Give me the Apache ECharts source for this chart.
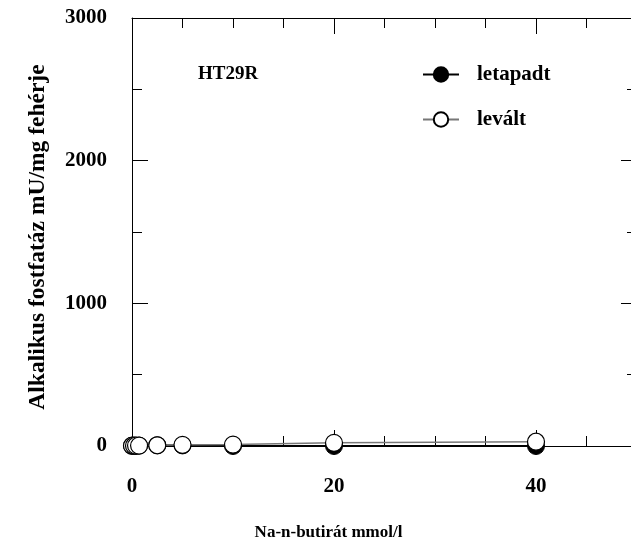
<!DOCTYPE html>
<html>
<head>
<meta charset="utf-8">
<script src="https://cdn.jsdelivr.net/npm/echarts@6/dist/echarts.min.js"></script>
<style>
  html, body { margin: 0; padding: 0; background: #fff; }
  #chart { width: 631px; height: 546px; }
</style>
</head>
<body>
<div id="chart"></div>
<script>
// Na-n-butirát koncentráció (mmol/l)
const conc = [0, 0.2, 0.4, 0.7, 2.5, 5, 10, 20, 40];
// alkalikus foszfatáz, mU/mg fehérje
const letapadt = [2, 2, 2, 3, 6, 4, 0, 0, 0];
const levalt = [2, 2, 3, 3, 5, 8, 10, 22, 30];

const font = 'Liberation Serif';

function pairs(xs, ys) {
  const out = [];
  for (let i = 0; i < xs.length; i++) {
    out.push([xs[i], ys[i]]);
  }
  return out;
}

function ticks() {
  return { show: true, inside: true, length: 16, lineStyle: { color: '#000', width: 1 } };
}
function minor(n) {
  return { show: true, splitNumber: n, length: 10, lineStyle: { color: '#000', width: 1 } };
}

const chart = echarts.init(document.getElementById('chart'));

chart.setOption({
  animation: false,
  grid: { left: 132, top: 18, right: -6, bottom: 100, outerBoundsMode: 'none', containLabel: false },
  title: {
    text: 'HT29R',
    left: 193,
    top: 60,
    textStyle: { fontFamily: font, fontWeight: 'bold', fontSize: 19, color: '#000' }
  },
  legend: {
    orient: 'vertical',
    left: 417,
    top: 59,
    itemWidth: 36,
    itemHeight: 18,
    itemGap: 24,
    textStyle: {
      fontFamily: font,
      fontWeight: 'bold',
      fontSize: 21,
      color: '#000',
      padding: [0, 0, 6, 13]
    },
    data: ['letapadt', 'levált']
  },
  xAxis: [
    {
      type: 'value',
      min: 0,
      max: 50,
      interval: 20,
      name: 'Na-n-butirát mmol/l',
      nameLocation: 'middle',
      nameGap: 78,
      nameTextStyle: {
        fontFamily: font, fontWeight: 'bold', fontSize: 17, color: '#000',
        padding: [0, 112, 0, 0]
      },
      axisLine: { show: true, onZero: false, lineStyle: { color: '#000', width: 1 } },
      axisTick: ticks(),
      minorTick: minor(4),
      splitLine: { show: false },
      axisLabel: {
        margin: 30,
        showMaxLabel: false,
        formatter: v => String(v),
        fontFamily: font,
        fontWeight: 'bold',
        fontSize: 21,
        color: '#000'
      }
    },
    {
      type: 'value',
      position: 'top',
      min: 0,
      max: 50,
      interval: 20,
      axisLine: { show: true, onZero: false, lineStyle: { color: '#000', width: 1 } },
      axisTick: ticks(),
      minorTick: minor(4),
      splitLine: { show: false },
      axisLabel: { show: false }
    }
  ],
  yAxis: [
    {
      type: 'value',
      min: 0,
      max: 3000,
      interval: 1000,
      name: 'Alkalikus fostfatáz mU/mg fehérje',
      nameLocation: 'middle',
      nameGap: 82,
      nameTextStyle: {
        fontFamily: font, fontWeight: 'bold', fontSize: 23.5, color: '#000',
        padding: [0, 10, 0, 0]
      },
      axisLine: { show: true, onZero: false, lineStyle: { color: '#000', width: 1 } },
      axisTick: ticks(),
      minorTick: minor(2),
      splitLine: { show: false },
      axisLabel: {
        margin: 25,
        formatter: v => String(v),
        fontFamily: font,
        fontWeight: 'bold',
        fontSize: 21,
        color: '#000'
      }
    },
    {
      type: 'value',
      position: 'right',
      min: 0,
      max: 3000,
      interval: 1000,
      axisLine: { show: true, onZero: false, lineStyle: { color: '#000', width: 1 } },
      axisTick: ticks(),
      minorTick: minor(2),
      splitLine: { show: false },
      axisLabel: { show: false }
    }
  ],
  series: [
    {
      name: 'letapadt',
      type: 'line',
      data: pairs(conc, letapadt),
      symbol: 'circle',
      symbolSize: 17,
      z: 2,
      lineStyle: { color: '#000', width: 2 },
      itemStyle: { color: '#000', borderColor: '#000', borderWidth: 1 }
    },
    {
      name: 'levált',
      type: 'line',
      data: pairs(conc, levalt),
      symbol: 'circle',
      symbolSize: 17,
      z: 3,
      lineStyle: { color: '#777', width: 1.5 },
      itemStyle: { color: '#fff', borderColor: '#000', borderWidth: 1.2 }
    }
  ]
});
</script>
</body>
</html>
